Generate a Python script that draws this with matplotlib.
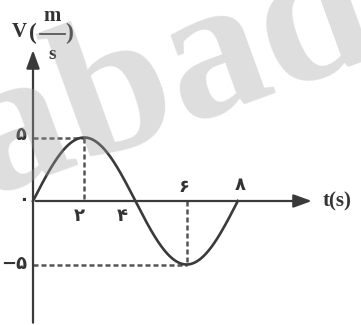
import matplotlib.pyplot as plt
import numpy as np

# datos del movimiento armonico (v = A sin(2*pi*t/T))
amplitud = 5
periodo = 8
t_marcas = [2, 4, 6, 8]
t_etiquetas = ['۲', '۴', '۶', '۸']
v_marcas = [5, 0, -5]
v_etiquetas = ['۵', '۰', '−۵']

t = np.linspace(0, periodo, 400)
v = amplitud * np.sin(2 * np.pi * t / periodo)

fig = plt.figure(figsize=(3.61, 3.25), dpi=100)
ax = fig.add_axes([0, 0, 1, 1])
# 1 unidad de t ~ 25.6 px, 1 unidad de v ~ 12.7 px, origen en (33, 201) px
ax.set_xlim(-33 / 25.6, (361 - 33) / 25.6)
ax.set_ylim((201 - 325) / 12.7, 201 / 12.7)
ax.axis('off')

gris = '#3a3a3a'

# ejes con flechas
ax.annotate('', xy=(11.0, 0), xytext=(0, 0),
            arrowprops=dict(arrowstyle='-|>,head_length=1.1,head_width=0.4', color=gris, lw=1.6))
ax.annotate('', xy=(0, 12.1), xytext=(0, -9.8),
            arrowprops=dict(arrowstyle='-|>,head_length=1.1,head_width=0.4', color=gris, lw=1.6))

# curva
ax.plot(t, v, color=gris, lw=1.9, zorder=3)

# lineas discontinuas
ax.plot([0, 2], [5, 5], ls=(0, (2, 1.2)), color='#555555', lw=1.8)
ax.plot([2, 2], [5, 0], ls=(0, (2, 1.2)), color='#555555', lw=1.8)
ax.plot([0, 6], [-5, -5], ls=(0, (2, 1.2)), color='#555555', lw=1.8)
ax.plot([6, 6], [0, -5], ls=(0, (2, 1.2)), color='#555555', lw=1.8)

# etiquetas de los ejes
fuente = dict(family='DejaVu Sans', weight='bold', color='#333333', fontsize=13)
posiciones_t = [(1.8, -1.15), (3.48, -1.15), (5.9, 1.1), (8.1, 1.25)]
for (x, y), etiqueta in zip(posiciones_t, t_etiquetas):
    ax.text(x, y, etiqueta, ha='center', va='center', **fuente)
posiciones_v = [(-0.47, 5.2), (-0.38, 0.05), (-0.75, -4.95)]
for (x, y), etiqueta in zip(posiciones_v, v_etiquetas):
    ax.text(x, y, etiqueta, ha='center', va='center', **fuente)

serif = dict(family='Liberation Serif', weight='bold', color='#333333')
ax.text(11.3, 0, 't(s)', ha='left', va='center', fontsize=15, **serif)
ax.text(-0.55, 13.3, 'V', ha='center', va='center', fontsize=15, **serif)
ax.text(0.0, 13.2, '(', ha='center', va='center', fontsize=17, **serif)
ax.text(1.42, 13.2, ')', ha='center', va='center', fontsize=17, **serif)
ax.text(0.76, 14.55, 'm', ha='center', va='center', fontsize=15, **serif)
ax.plot([0.28, 1.25], [13.15, 13.15], color='#333333', lw=1.3)
ax.text(0.74, 11.55, 's', ha='center', va='center', fontsize=14, **serif)

# marca de agua encima, semitransparente
ax.text(5.3, 9.6, 'abad', fontsize=144, family='Liberation Serif', weight='bold',
        color='#a0a0a0', alpha=0.35, rotation=20,
        ha='center', va='center', zorder=10)

fig.savefig('out.png', dpi=100)
